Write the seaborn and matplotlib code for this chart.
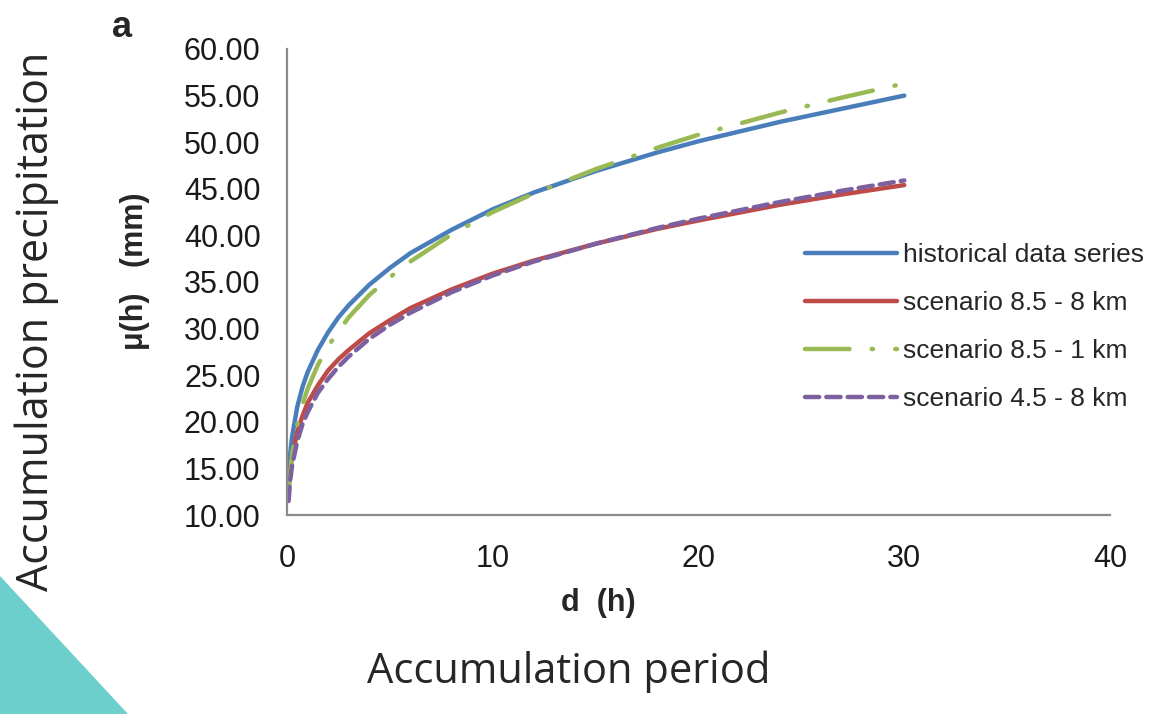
import numpy as np
import pandas as pd
import seaborn as sns
import matplotlib
matplotlib.use("Agg")
import matplotlib.pyplot as plt
from matplotlib.patches import Polygon

# values
d_hours = [0.08, 0.15, 0.25, 0.5, 0.75, 1, 1.5, 2, 2.5, 3, 4, 5, 6, 8, 10, 12, 15, 18, 20, 24, 27, 30]
historical = [14.3, 16.4, 18.4, 21.6, 23.7, 25.3, 27.7, 29.6, 31.2, 32.5, 34.7, 36.5, 38.1,
              40.6, 42.8, 44.6, 46.9, 48.9, 50.1, 52.2, 53.6, 55.0]
scen85_8km = [12.8, 14.6, 16.3, 18.9, 20.6, 22.0, 23.9, 25.5, 26.7, 27.7, 29.5, 30.9, 32.2,
              34.2, 35.9, 37.3, 39.1, 40.7, 41.6, 43.3, 44.4, 45.4]
scen85_1km = [12.6, 14.4, 16.5, 19.7, 21.8, 23.5, 26.1, 28.1, 29.7, 31.2, 33.6, 35.5, 37.2,
              40.1, 42.5, 44.5, 47.1, 49.4, 50.8, 53.2, 54.8, 56.3]
scen45_8km = [11.5, 13.6, 15.3, 17.9, 19.7, 21.0, 23.1, 24.6, 25.9, 27.0, 28.9, 30.4, 31.7,
              33.9, 35.7, 37.2, 39.1, 40.8, 41.8, 43.6, 44.8, 45.9]

series_names = ["historical data series", "scenario 8.5 - 8 km",
                "scenario 8.5 - 1 km", "scenario 4.5 - 8 km"]
x_ticks = [0, 10, 20, 30, 40]
y_ticks = [10, 15, 20, 25, 30, 35, 40, 45, 50, 55, 60]

sns.set_style("white")
plt.rcParams['font.family'] = ['Liberation Sans', 'DejaVu Sans']

fig = plt.figure(figsize=(11.51, 7.14), dpi=100)
ax = fig.add_axes([0.2493, 0.2787, 0.7151, 0.6527])

styles = [
    ("#4a7ebb", "-"),
    ("#be4b48", "-"),
    ("#98b954", (0, (10, 5, 0.3, 5))),
    ("#7d60a0", (0, (3.2, 1.6))),
]
all_series = [historical, scen85_8km, scen85_1km, scen45_8km]
for name, vals, (col, ls) in zip(series_names, all_series, styles):
    df = pd.DataFrame({"d": d_hours, "mu": vals})
    sns.lineplot(data=df, x="d", y="mu", ax=ax, color=col, linestyle=ls,
                 linewidth=3.2, label=name, solid_capstyle="round",
                 dash_capstyle="round")

ax.set_xlim(0, 40)
ax.set_ylim(10, 60)
ax.set_xticks(x_ticks)
ax.set_yticks(y_ticks)
ax.set_yticklabels([f"{v:.2f}" for v in y_ticks])
ax.tick_params(axis="both", labelsize=22, length=0, colors="#1a1a1a")
ax.tick_params(axis="y", pad=19)
ax.tick_params(axis="x", pad=21)
for s in ["top", "right"]:
    ax.spines[s].set_visible(False)
for s in ["left", "bottom"]:
    ax.spines[s].set_color("#8c8c8c")
    ax.spines[s].set_linewidth(1.6)

ax.set_xlabel("d  (h)", fontsize=22, fontweight="bold", va="center")
ax.xaxis.set_label_coords(0.378, -0.189)
ax.set_ylabel("μ(h)   (mm)", fontsize=22, fontweight="bold", va="center")
ax.yaxis.set_label_coords(-0.185, 0.524)

leg = ax.legend(loc="upper left", bbox_to_anchor=(0.629, 0.583), frameon=False,
                fontsize=19, handlelength=3.5, handletextpad=0.23,
                labelspacing=0.91, borderpad=0, borderaxespad=0)

fig.text(0.106, 0.962, "a", fontsize=26, fontweight="bold", ha="center", va="center")

# decorative teal triangle bottom-left
tri = Polygon([[0, 0], [0, 137 / 714], [127 / 1151, 0]], closed=True,
              transform=fig.transFigure, color="#6ccfcb", zorder=0)
fig.patches.append(tri)

fig.text(0.032, 0.55, "Accumulation precipitation", rotation=90, fontsize=31,
         family=["Open Sans", "DejaVu Sans"], ha="center", va="center")
fig.text(0.494, 0.059, "Accumulation period", fontsize=30,
         family=["Open Sans", "DejaVu Sans"], ha="center", va="center")

fig.savefig("out.png", dpi=100)
